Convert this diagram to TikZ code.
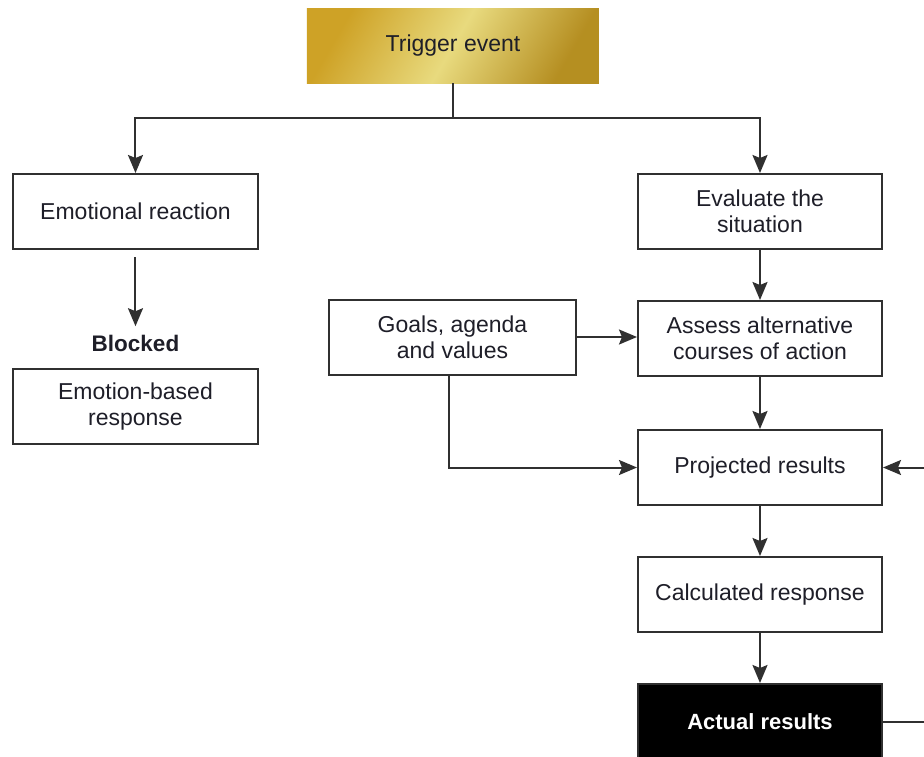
\documentclass[tikz,border=0pt]{standalone}
\usepackage{fontspec}
\setmainfont{Liberation Sans}
\usetikzlibrary{positioning,arrows.meta}
\definecolor{golddark}{RGB}{206,162,38}
\definecolor{goldlight}{RGB}{232,218,126}
\definecolor{boxline}{RGB}{48,48,48}
\definecolor{boxtext}{RGB}{30,30,40}

\begin{document}
\begin{tikzpicture}[node distance=127pt,on grid,>={Stealth[length=18pt,width=15pt,inset=3pt]},
		font=\fontsize{23}{26}\selectfont,
		box/.style={rectangle,draw=boxline,line width=2pt,fill=white,text=boxtext,
			minimum width=244pt,minimum height=75pt,align=center,inner sep=2pt},
		goldbox/.style={rectangle,shading=axis,left color=golddark,right color=golddark!88!black,
			middle color=goldlight,shading angle=60,
			minimum width=292pt,minimum height=75pt,text=boxtext},
		blackbox/.style={box,fill=black,text=white,font=\fontsize{22}{26}\selectfont\bfseries},
		link/.style={draw=boxline,line width=2pt}]
		\useasboundingbox (-760pt,211.5pt) rectangle (164pt,-544.5pt);
		\node[box]       (eval)                          {Evaluate the\\situation};
		\node[box]       (assess) [below=of eval]        {Assess alternative\\courses of action};
		\node[box]       (proj)   [below=of assess, yshift=-2pt] {Projected results};
		\node[box]       (calc)   [below=of proj]        {Calculated response};
		\node[blackbox]  (act)    [below=of calc]        {Actual results};
		\node[box, minimum width=247pt] (goals) [left=307.5pt of assess, yshift=1.5pt] {Goals, agenda\\and values};
		\node[box, minimum width=245pt] (emot)  [left=624.5pt of eval] {Emotional reaction};
		\node[font=\fontsize{22.5}{26}\selectfont\bfseries,text=boxtext] (blk) [below=131.5pt of emot] {Blocked};
		\node[box, minimum width=245pt] (emresp) [below=195pt of emot] {Emotion-based\\response};
		\node[goldbox]   (trig)   [above left=166pt and 307pt of eval] {Trigger event};
		
		\coordinate[below=35pt of trig.south] (fork);
		\coordinate[right=42pt of proj.east] (fb);
		\coordinate[right=42pt of act.east] (out);
		
		\path[link]
		(trig.south) -- (fork);
		\path[link,->]
		(fork) -| (emot.north);
		\path[link,->]
		(fork) -| (eval.north);
		\path[link,->,shorten <=7pt,shorten >=5pt] (emot) -- (blk);
		\path[link,->] (eval) -- (assess);
		\path[link,->] (goals.east) -- (goals.east -| assess.west);
		\path[link,->] ([xshift=-3.5pt]goals.south) |- (proj.west);
		\path[link,->] (assess) -- (proj);
		\path[link,->] (proj) -- (calc);
		\path[link,->] (calc) -- (act);
		\path[link,->] (fb) -- (proj.east);
		\path[link] (act.east) -- (out);
		\end{tikzpicture}
\end{document}
